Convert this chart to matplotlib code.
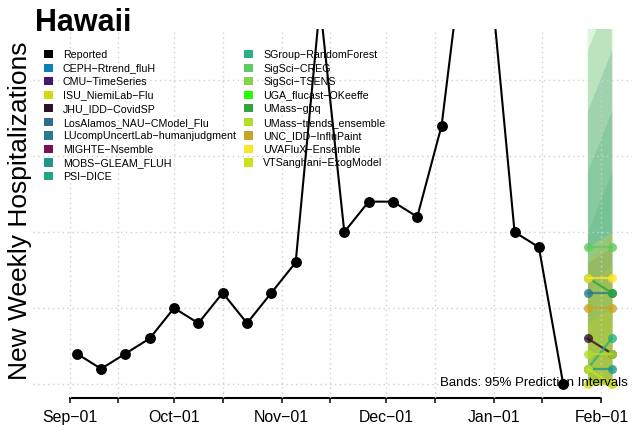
import datetime as dt
import numpy as np
import matplotlib
matplotlib.use('Agg')
import matplotlib.pyplot as plt
import matplotlib.dates as mdates
from matplotlib.patches import Patch

plt.rcParams['font.family'] = ['Liberation Sans', 'DejaVu Sans']

# Reported weekly hospitalizations (week ending dates)
report_dates = ['2022-09-03', '2022-09-10', '2022-09-17', '2022-09-24', '2022-10-01',
                '2022-10-08', '2022-10-15', '2022-10-22', '2022-10-29', '2022-11-05',
                '2022-11-12', '2022-11-19', '2022-11-26', '2022-12-03', '2022-12-10',
                '2022-12-17', '2022-12-24', '2022-12-31', '2023-01-07', '2023-01-14',
                '2023-01-21']
report_values = [2, 1, 2, 3, 5, 4, 6, 4, 6, 8, 25, 10, 12, 12, 11, 17, 30, 27, 10, 9, 0]

# Forecast targets
forecast_dates = ['2023-01-28', '2023-02-04']

models = ['CEPH-Rtrend_fluH', 'CMU-TimeSeries', 'ISU_NiemiLab-Flu', 'JHU_IDD-CovidSP',
          'LosAlamos_NAU-CModel_Flu', 'LUcompUncertLab-humanjudgment', 'MIGHTE-Nsemble',
          'MOBS-GLEAM_FLUH', 'PSI-DICE', 'SGroup-RandomForest', 'SigSci-CREG',
          'SigSci-TSENS', 'UGA_flucast-OKeeffe', 'UMass-gbq', 'UMass-trends_ensemble',
          'UNC_IDD-InfluPaint', 'UVAFluX-Ensemble', 'VTSanghani-ExogModel']
model_colors = ['#0F7FB8', '#481670', '#D3D914', '#2E1126', '#2F6C8E', '#2A7B8D',
                '#7A0F5A', '#21968A', '#20A486', '#2BB07F', '#5FCA61', '#86D549',
                '#26FF00', '#2CA639', '#B2DD2D', '#C6A624', '#FDE725', '#CFE11C']
nan = np.nan
median_wk1 = [nan, nan, 0, 3, nan, 6, nan, 1, nan, 1, 9, nan, nan, 7, 2, 5, 7, 1]
median_wk2 = [nan, nan, 0, 2, nan, 6, nan, 1, nan, 3, 9, nan, nan, 6, 2, 5, 7, 0]
lower_wk1 = [nan, nan, 0, 0, nan, 0, nan, 0, nan, 0, 0, nan, nan, 0, 0, 0, 0, 0]
lower_wk2 = [nan, nan, 0, 0, nan, 0, nan, 0, nan, 0, 0, nan, nan, 0, 0, 0, 0, 0]
upper_wk1 = [nan, nan, 4, 8, nan, 18, nan, 14, nan, 10, 35, nan, nan, 22, 6, 8, 9, 4]
upper_wk2 = [nan, nan, 5, 9, nan, 22, nan, 18, nan, 14, 45, nan, nan, 26, 8, 10, 10, 5]

W, H = 632, 432
fig = plt.figure(figsize=(W / 100, H / 100), dpi=100)
ax = fig.add_axes([33 / W, 1 - 398 / H, 1 - 33 / W, (398 - 29) / H])

rd = mdates.datestr2num(report_dates)
fd = mdates.datestr2num(forecast_dates)

# prediction bands
for i, m in enumerate(models):
    if np.isnan(median_wk1[i]):
        continue
    ax.fill_between(fd, [lower_wk1[i], lower_wk2[i]], [upper_wk1[i], upper_wk2[i]],
                    color=model_colors[i], alpha=0.2, lw=0, zorder=1)

# medians
for i, m in enumerate(models):
    if np.isnan(median_wk1[i]):
        continue
    ax.plot(fd, [median_wk1[i], median_wk2[i]], '-o', color=model_colors[i], alpha=0.8,
            lw=1.6, ms=6.5, mew=0, zorder=3)

ax.plot(rd, report_values, '-o', color='black', lw=1.5, ms=6.8, zorder=4)

sep1 = mdates.datestr2num('2022-09-01')
feb1 = mdates.datestr2num('2023-02-01')
ax.set_xlim(sep1 - 10.6, sep1 + 161.8)
ax.set_ylim(-0.92, 23.36)

major = mdates.datestr2num(['2022-09-01', '2022-10-01', '2022-11-01', '2022-12-01',
                            '2023-01-01', '2023-02-01'])
minor = mdates.datestr2num(['2022-09-15', '2022-10-15', '2022-11-15', '2022-12-15',
                            '2023-01-15'])
ax.set_xticks(major)
ax.set_xticks(minor, minor=True)
ax.xaxis.set_major_formatter(mdates.DateFormatter('%b\u2212%d'))
ax.set_yticks([0, 5, 10, 15, 20])
ax.tick_params(axis='y', left=False, labelleft=False)
ax.tick_params(axis='x', which='both', direction='out', length=3.3, width=1.1,
               labelsize=11.4, pad=5.5)

ax.set_axisbelow(False)
ax.grid(which='both', color='#CFCFCF', linestyle=(0, (1, 2.5)), lw=1.0)

for s in ['top', 'right', 'left']:
    ax.spines[s].set_visible(False)
ax.spines['bottom'].set_bounds(sep1, feb1)
ax.spines['bottom'].set_linewidth(1.5)

fig.text(35 / W, 1 - 31 / H, 'Hawaii', fontsize=22, fontweight='bold', va='baseline', ha='left')
fig.text(20 / W, 1 - 211 / H, 'New Weekly Hospitalizations', rotation=90, fontsize=19,
         va='center', ha='center')

labels = ['Reported'] + [m.replace('-', '\u2212') for m in models]
handles = [Patch(facecolor='black', edgecolor='none')] + \
          [Patch(facecolor=c, edgecolor='none') for c in model_colors]
leg = ax.legend(handles, labels, ncol=2, loc='upper left', bbox_to_anchor=(44 / W, 1 - 50 / H),
                bbox_transform=fig.transFigure, frameon=False, fontsize=7.7,
                handlelength=0.8, handleheight=0.8, handletextpad=0.95,
                labelspacing=0.33, columnspacing=0.8, borderpad=0, borderaxespad=0)
leg.set_zorder(2.6)

ax.text(628 / W, 1 - 383 / H, 'Bands: 95% Prediction Intervals', transform=fig.transFigure,
        ha='right', va='center', fontsize=9.5, zorder=10)

fig.savefig('out.png', dpi=100)
